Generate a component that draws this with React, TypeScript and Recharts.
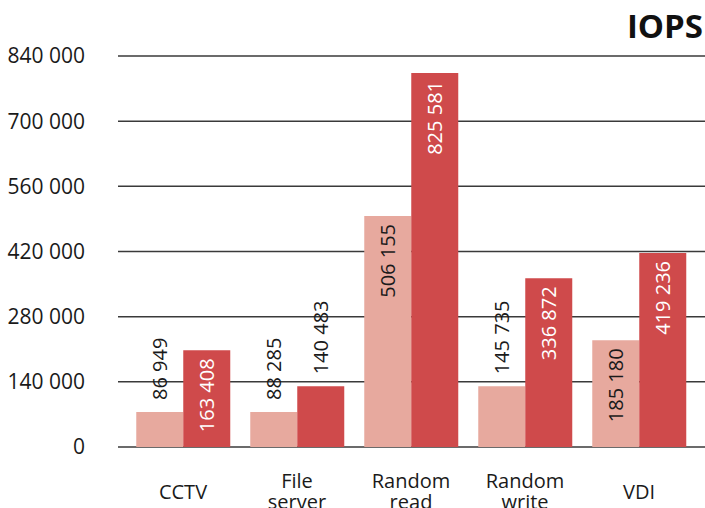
import { BarChart, Bar, XAxis, YAxis, CartesianGrid, LabelList } from 'recharts';

const categories = ['CCTV', 'File\nserver', 'Random\nread', 'Random\nwrite', 'VDI'];
// bar heights as drawn in the picture
const lightHeights = [75200, 75200, 496300, 130400, 229200];
const redHeights = [207700, 130400, 803500, 362400, 416800];
// printed value labels
const lightLabels = ['86 949', '88 285', '506 155', '145 735', '185 180'];
const redLabels = ['163 408', '140 483', '825 581', '336 872', '419 236'];
const yTicks = [0, 140000, 280000, 420000, 560000, 700000, 840000];

const LIGHT = '#e7a99e';
const RED = '#cf4a4b';
const FONT = '"Open Sans", sans-serif';

const data = categories.map((name, i) => ({
  name,
  light: lightHeights[i],
  red: redHeights[i],
  lightLabel: lightLabels[i],
  redLabel: redLabels[i],
}));

const fmt = (v: number) => String(v).replace(/\B(?=(\d{3})+(?!\d))/g, ' ');

const makeLabel = (insideColor: string) => (props: any) => {
  const { x, y, width, height, value } = props;
  const cx = x + width / 2;
  const inside = height > 88;
  if (inside) {
    const ay = y + 8;
    return (
      <text x={cx} y={ay} transform={`rotate(-90, ${cx}, ${ay})`} textAnchor="end"
        dominantBaseline="central" fill={insideColor} fontSize={20} fontFamily={FONT}>
        {value}
      </text>
    );
  }
  const ay = y - 12;
  return (
    <text x={cx} y={ay} transform={`rotate(-90, ${cx}, ${ay})`} textAnchor="start"
      dominantBaseline="central" fill="#1a1a1a" fontSize={20} fontFamily={FONT}>
      {value}
    </text>
  );
};

const CategoryTick = ({ x, y, payload }: any) => {
  const lines = String(payload.value).split('\n');
  const cy = y + 44 - (lines.length - 1) * 10.5;
  return (
    <g>
      {lines.map((l, i) => (
        <text key={i} x={x} y={cy + i * 21} textAnchor="middle" dominantBaseline="central"
          fill="#1a1a1a" fontSize={20} fontFamily={FONT}>
          {l}
        </text>
      ))}
    </g>
  );
};

export default function App() {
  return (
    <div style={{ position: 'relative', width: 705, height: 508, background: '#fff', fontFamily: FONT }}>
      <style>{`body{margin:0}`}</style>
      <div style={{ position: 'absolute', right: 2, top: 4, fontSize: 33, fontWeight: 700, color: '#111', lineHeight: '44px' }}>
        IOPS
      </div>
      <BarChart width={705} height={508} data={data} margin={{ top: 56, right: 0, bottom: 0, left: 0 }}
        barCategoryGap="9%" barGap={0}>
        <CartesianGrid vertical={false} stroke="#3a3a3a" strokeWidth={1.5} />
        <XAxis dataKey="name" axisLine={false} tickLine={false} tickSize={0} tickMargin={0} height={61}
          padding={{ left: 8, right: 9 }} interval={0} tick={<CategoryTick />} />
        <YAxis domain={[0, 840000]} ticks={yTicks} axisLine={false} tickLine={false} tickSize={0}
          tickMargin={33} width={118} tickFormatter={fmt}
          tick={{ fill: '#1a1a1a', fontSize: 21, fontFamily: FONT }} />
        <Bar dataKey="light" fill={LIGHT} isAnimationActive={false}>
          <LabelList dataKey="lightLabel" content={makeLabel('#1a1a1a')} />
        </Bar>
        <Bar dataKey="red" fill={RED} isAnimationActive={false}>
          <LabelList dataKey="redLabel" content={makeLabel('#ffffff')} />
        </Bar>
      </BarChart>
    </div>
  );
}
